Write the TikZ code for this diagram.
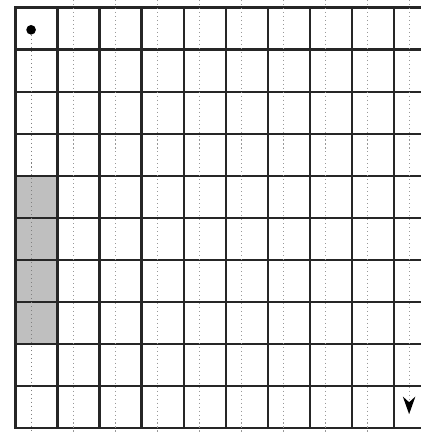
\documentclass[tikz,border=0pt]{standalone}
\usetikzlibrary{arrows.meta}

\newcommand{\trailS}[1]{\draw[trail] (#1-0.14,9.69) -- (#1-0.14,-0.6);}
\newcommand{\gridwhitegrey}{\foreach \x in {0,...,9}{\foreach \y in {0,...,9}	\node[box] (c-\x-\y) at (\x,\y){};}
        \foreach \y in {2,3,4,5} \node[box, fill=gray!50] at (0,\y){};
    }

\begin{document}
\begin{tikzpicture}
                [box/.style={rectangle,draw=black!85,line width=2pt, minimum size=1cm, inner sep=0pt},
                trail/.style={dotted,gray!80,line width=0.7pt},
                arrow/.style={-{Stealth[length=4.2mm,width=3mm,black,line width=0pt]},dotted,gray!80,line width=0.7pt},
                ]
                \useasboundingbox (-0.88,-0.595) rectangle (9.14,9.69);
                \gridwhitegrey
                \node[circle, fill=black, inner sep=0pt, minimum size=2.3mm] (start) at (-0.14,8.98){};
                \draw[trail, gray] (start) -- (-0.14,-0.6);
                \foreach \x in {1,...,8} \trailS{\x}
                \coordinate (finish) at (8.86,-0.17);
                \draw[arrow] (8.86,9.69) -- (finish);
            \end{tikzpicture}
\end{document}
